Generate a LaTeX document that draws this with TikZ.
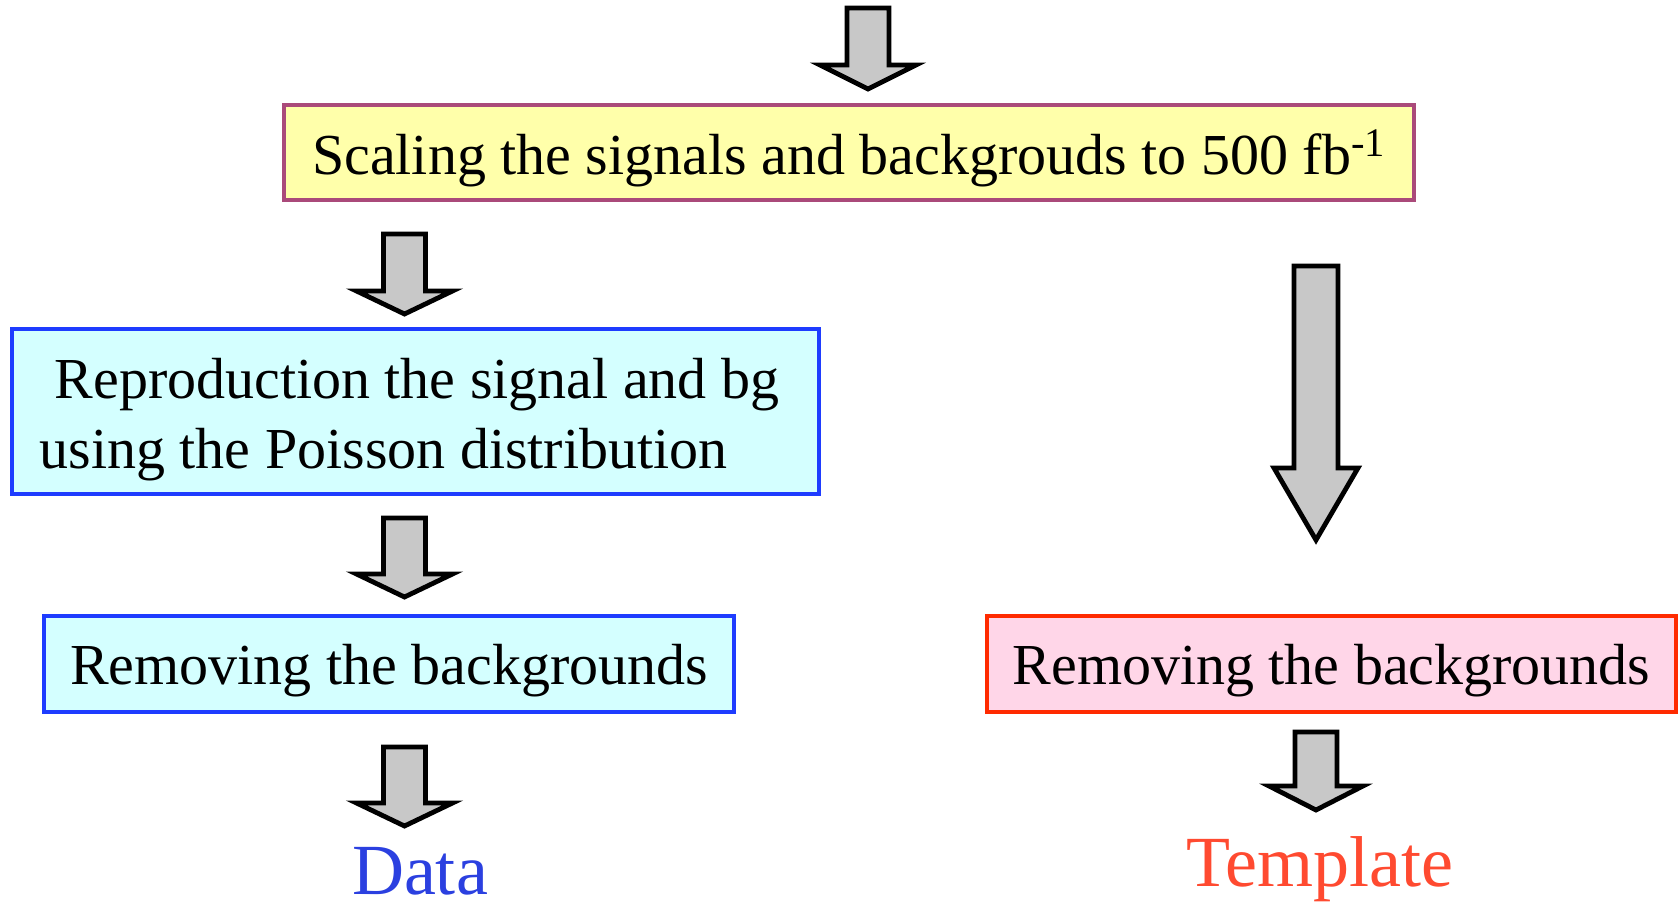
\documentclass[tikz,border=0pt]{standalone}
\usepackage{fontspec}
\setmainfont{Liberation Serif}
\definecolor{yfill}{HTML}{FFFFAA}
\definecolor{ydraw}{HTML}{AA4A7A}
\definecolor{bfill}{HTML}{D4FFFF}
\definecolor{bdraw}{HTML}{1E3CFF}
\definecolor{pfill}{HTML}{FFD6E8}
\definecolor{pdraw}{HTML}{FF2A00}
\definecolor{datacol}{HTML}{2B40E0}
\definecolor{tplcol}{HTML}{FF4A30}
\definecolor{arrfill}{HTML}{C8C8C8}
\newcommand\lowertext[2]{\raisebox{-#1}[\height][\depth]{#2}}
\tikzset{
  boxbase/.style={rectangle, line width=2pt, inner sep=0pt, font=\fontsize{29}{35}\selectfont},
  ybox/.style={boxbase, draw=ydraw, fill=yfill},
  bbox/.style={boxbase, draw=bdraw, fill=bfill},
  pbox/.style={boxbase, draw=pdraw, fill=pfill},
  bigtext/.style={inner sep=0pt, font=\fontsize{36}{40}\selectfont, anchor=base},
  arrstyle/.style={draw=black, fill=arrfill, line width=2.4pt, line join=miter},
  pics/barrow/.style n args={4}{code={
    \path[arrstyle] (-#1,0) -- (-#1,#3) -- (-#2,#3) -- (0,#3+#4) -- (#2,#3) -- (#1,#3) -- (#1,0) -- cycle;
  }}
}
\begin{document}
\begin{tikzpicture}[x=0.5pt, y=-0.5pt]
\useasboundingbox (0,0) rectangle (1678,904);
% boxes
\node[ybox, minimum width=565pt, minimum height=47.5pt] (scale) at (849,152.5)
  {\lowertext{2.7pt}{Scaling the signals and backgrouds to 500 fb\textsuperscript{-1}}};
\node[bbox, minimum width=403.5pt, minimum height=82.5pt] (repro) at (415.5,411.5)
  {\lowertext{3.75pt}{\begin{tabular}{@{}l@{\hspace{6pt}}}\hspace{0.26em}Reproduction the signal and bg\\using the Poisson distribution\end{tabular}}};
\node[bbox, minimum width=345pt, minimum height=48pt] (remL) at (389,664)
  {\lowertext{3.2pt}{Removing the backgrounds}};
\node[pbox, minimum width=344.5pt, minimum height=48pt] (remR) at (1331.5,664)
  {\lowertext{3.2pt}{Removing the backgrounds}};
\node[bigtext, text=datacol] (data) at (420,894) {Data};
\node[bigtext, text=tplcol] (tpl) at (1320,886) {Template};
% block arrows
\coordinate (a0) at (868,8);
\coordinate (a1) at (404.5,234);
\coordinate (a2) at (404.5,518);
\coordinate (a3) at (404.5,747);
\coordinate (a4) at (1316,266);
\coordinate (a5) at (1316,732);
\pic at (a0) {barrow={21}{48}{57}{24}};
\pic at (a1) {barrow={21}{48}{57}{23}};
\pic at (a2) {barrow={21}{48}{56}{23}};
\pic at (a3) {barrow={21}{48}{56}{23}};
\pic at (a4) {barrow={22}{42}{202}{72}};
\pic at (a5) {barrow={21}{47}{54}{24}};
\end{tikzpicture}
\end{document}
